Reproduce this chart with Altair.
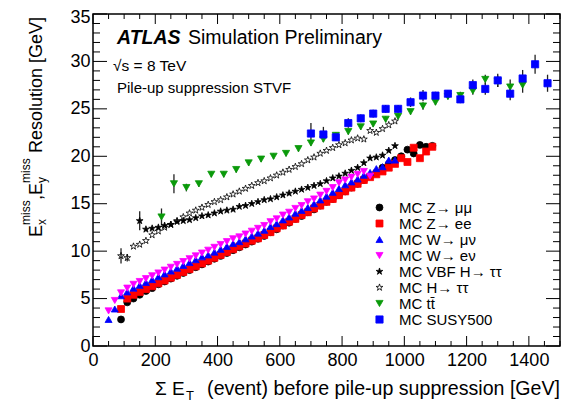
import altair as alt
import pandas as pd

FONT = "Liberation Sans"

STAR = ("M0,-1L0.2245,-0.309L0.951,-0.309L0.3633,0.118L0.5878,0.809L0,0.382L-0.5878,0.809"
        "L-0.3633,0.118L-0.951,-0.309L-0.2245,-0.309Z")

labels = ["MC Z\u2192 \u03bc\u03bc", "MC Z\u2192 ee", "MC W\u2192 \u03bc\u03bd", "MC W\u2192 e\u03bd",
          "MC VBF H\u2192 \u03c4\u03c4", "MC H\u2192 \u03c4\u03c4", "MC tt\u0304", "MC SUSY500"]
fills = ["black", "#ff0000", "#0000ff", "#ff00ff", "black", "transparent", "#0a9a0a", "#0000ff"]
strokes = ["black", "#ff0000", "#0000ff", "#ff00ff", "black", "black", "#0a9a0a", "#0000ff"]
shapes = ["circle", "square", "triangle-up", "triangle-down", STAR, STAR, "triangle-down", "square"]
sizes = [48, 52, 60, 60, 50, 120, 62, 64]
widths = [0.8, 0.8, 0.8, 0.8, 0.8, 1.4, 0.8, 0.8]

# bin centres (GeV)
zmm_x = list(range(90, 1091, 20))
zee_x = list(range(90, 1091, 20))
wmu_x = list(range(50, 971, 20))
wel_x = list(range(50, 891, 20))
vbf_x = list(range(150, 971, 20))
htt_x = list(range(90, 971, 20))
tt_x = list(range(220, 1381, 40))
susy_x = list(range(700, 1461, 40))

zmm_y = [2.8, 4.6, 5.0, 5.4, 5.8, 6.1, 6.5, 6.8, 7.1, 7.4, 7.7, 8.0, 8.3, 8.6, 8.9, 9.2, 9.5, 9.8,
         10.1, 10.4, 10.7, 11.0, 11.3, 11.6, 12.0, 12.3, 12.7, 13.0, 13.4, 13.7, 14.1, 14.4, 14.8,
         15.2, 15.5, 15.9, 16.3, 16.7, 17.1, 17.5, 17.9, 18.3, 18.8, 19.2, 19.6, 20.0, 20.7, 20.3,
         21.2, 21.0, 21.1]
zee_y = [3.9, 5.0, 5.4, 5.7, 6.0, 6.3, 6.6, 6.9, 7.2, 7.5, 7.8, 8.1, 8.4, 8.7, 9.0, 9.3, 9.6, 9.9,
         10.2, 10.5, 10.8, 11.1, 11.35, 11.7, 12.0, 12.4, 12.7, 13.1, 13.4, 13.8, 14.1, 14.5, 14.8,
         15.2, 15.5, 15.9, 16.3, 16.7, 17.1, 17.5, 17.8, 18.1, 18.4, 18.8, 19.2, 19.8, 19.4, 20.9,
         19.8, 20.5, 21.0]
wmu_y = [2.8, 3.9, 5.3, 5.7, 6.1, 6.4, 6.7, 7.0, 7.3, 7.6, 7.9, 8.2, 8.5, 8.8, 9.1, 9.4, 9.6, 9.9,
         10.2, 10.5, 10.8, 11.0, 11.3, 11.6, 11.9, 12.2, 12.6, 12.9, 13.3, 13.6, 14.0, 14.3, 14.6,
         15.0, 15.4, 15.8, 16.2, 16.6, 17.0, 17.3, 17.6, 18.0, 18.3, 18.7, 18.9, 19.6, 19.6]
wel_y = [3.7, 4.8, 5.6, 6.1, 6.5, 6.8, 7.1, 7.4, 7.7, 8.0, 8.3, 8.6, 8.9, 9.2, 9.5, 9.8, 10.1, 10.4,
         10.7, 11.0, 11.3, 11.5, 11.8, 12.1, 12.4, 12.7, 13.1, 13.4, 13.8, 14.1, 14.5, 14.8, 15.2,
         15.5, 15.9, 16.3, 16.7, 17.2, 17.5, 17.8, 18.1, 18.4, 17.9]
vbf_y = [13.2, 12.3, 12.4, 12.5, 12.7, 12.8, 13.1, 13.2, 13.3, 13.5, 13.7, 13.8, 14.0, 14.2, 14.3,
         14.4, 14.7, 14.8, 15.0, 15.2, 15.4, 15.5, 15.7, 15.9, 16.1, 16.3, 16.5, 16.7, 16.9, 17.1,
         17.4, 17.7, 17.9, 18.2, 18.5, 18.8, 19.3, 19.8, 19.9, 20.1, 20.6, 21.1]
htt_y = [9.5, 9.3, 10.5, 10.7, 11.1, 11.7, 12.1, 12.5, 12.8, 13.2, 13.6, 14.0, 14.3, 14.6, 14.9,
         15.2, 15.4, 15.7, 16.0, 16.3, 16.6, 16.9, 17.2, 17.4, 17.7, 18.0, 18.3, 18.6, 18.9, 19.2,
         19.6, 19.9, 20.3, 20.6, 20.9, 21.2, 21.4, 21.7, 21.9, 21.8, 22.7, 22.5, 22.9, 23.3, 23.7]
tt_y = [13.6, 17.1, 16.7, 17.1, 18.1, 18.1, 18.6, 19.3, 19.7, 20.0, 20.3, 20.8, 21.4, 21.8, 22.2,
        22.6, 23.1, 23.4, 23.9, 24.2, 24.7, 25.3, 25.7, 26.3, 26.4, 26.9, 28.1, 27.9, 27.3, 27.5]
susy_y = [22.4, 22.3, 22.0, 23.5, 24.0, 24.5, 25.0, 25.0, 25.7, 26.4, 26.4, 26.6, 26.0, 27.5, 27.1,
          28.0, 26.6, 28.2, 29.7, 27.7]

# statistical errors (only visible ones)
tt_err = [0.9, 1.0, 0.4, 0.3, 0.3, 0.3, 0.3, 0.3, 0.3, 0.3, 0.3, 0.3, 0.3, 0.3, 0.3, 0.3, 0.3, 0.3,
          0.3, 0.3, 0.3, 0.4, 0.3, 0.3, 0.4, 0.4, 0.5, 0.6, 0.8, 0.8]
susy_err = [1.1, 0.8, 0.4, 0.5, 0.4, 0.4, 0.4, 0.4, 0.5, 0.6, 0.4, 0.4, 0.4, 0.6, 0.6, 0.7, 0.7,
            0.9, 1.0, 0.9]
vbf_err = [1.0]
htt_err = [0.8, 0.4]

series = [
    (zmm_x, zmm_y, []), (zee_x, zee_y, []), (wmu_x, wmu_y, []), (wel_x, wel_y, []),
    (vbf_x, vbf_y, vbf_err), (htt_x, htt_y, htt_err), (tt_x, tt_y, tt_err), (susy_x, susy_y, susy_err),
]
rows = []
for lab, (xs, ys, es) in zip(labels, series):
    for i, (xv, yv) in enumerate(zip(xs, ys)):
        e = es[i] if i < len(es) else 0.0
        rows.append({"series": lab, "x": xv, "y": yv, "lo": yv - e, "hi": yv + e, "err": e})
df = pd.DataFrame(rows)
dferr = df[df["err"] > 0]

x_major = [0, 200, 400, 600, 800, 1000, 1200, 1400]
x_minor = [v for v in range(0, 1501, 50) if v % 200 != 0]
y_major = [0, 5, 10, 15, 20, 25, 30, 35]
y_minor = [v for v in range(0, 36) if v % 5 != 0]

W, H = 467, 332
xscale = alt.Scale(domain=[0, 1500], nice=False, zero=False)
yscale = alt.Scale(domain=[0, 35], nice=False, zero=False)
xaxis = alt.Axis(orient="bottom", values=x_major, labelFontSize=18, labelFont=FONT, labelColor="black",
                 ticks=False, domain=False, grid=False, labelPadding=5, title=None, labelFlush=False,
                 labelOverlap=False, format="d")
yaxis = alt.Axis(orient="left", values=y_major, labelFontSize=18, labelFont=FONT, labelColor="black",
                 ticks=False, domain=False, grid=False, labelPadding=3, title=None, labelFlush=False,
                 labelOverlap=False, format="d",
                 labelOffset={"condition": {"test": "datum.value == 35", "value": 3}, "value": 0})


def xt(vals, y1, y2):
    return alt.Chart(pd.DataFrame({"v": vals})).mark_rule(color="black", strokeWidth=1).encode(
        x=alt.X("v:Q", scale=xscale, axis=xaxis), y=alt.value(y1), y2=alt.value(y2))


def yt(vals, x1, x2):
    return alt.Chart(pd.DataFrame({"v": vals})).mark_rule(color="black", strokeWidth=1).encode(
        y=alt.Y("v:Q", scale=yscale, axis=yaxis), x=alt.value(x1), x2=alt.value(x2))


ticks = [
    xt(x_major, H, H - 10), xt(x_minor, H, H - 5), xt(x_major, 0, 10), xt(x_minor, 0, 5),
    yt(y_major, 0, 14), yt(y_minor, 0, 7), yt(y_major, W, W - 14), yt(y_minor, W, W - 7),
]

errs = alt.Chart(dferr).mark_rule(color="#222222", strokeWidth=1.3).encode(
    x=alt.X("x:Q", scale=xscale, axis=xaxis),
    y=alt.Y("lo:Q", scale=yscale, axis=yaxis),
    y2="hi:Q",
)

points = alt.Chart(df).mark_point(filled=True, opacity=1).encode(
    x=alt.X("x:Q", scale=xscale, axis=xaxis),
    y=alt.Y("y:Q", scale=yscale, axis=yaxis),
    shape=alt.Shape("series:N", scale=alt.Scale(domain=labels, range=shapes), title=None),
    fill=alt.Fill("series:N", scale=alt.Scale(domain=labels, range=fills), title=None),
    stroke=alt.Stroke("series:N", scale=alt.Scale(domain=labels, range=strokes), title=None),
    size=alt.Size("series:N", scale=alt.Scale(domain=labels, range=sizes), title=None),
    strokeWidth=alt.StrokeWidth("series:N", scale=alt.Scale(domain=labels, range=widths), title=None),
)


def txt(t, x, y, size, angle=0, align="left", bold=False, italic=False):
    kw = dict(text=t, fontSize=size, font=FONT, color="black", align=align, baseline="alphabetic")
    if angle:
        kw["angle"] = angle
    if bold:
        kw["fontWeight"] = "bold"
    if italic:
        kw["fontStyle"] = "italic"
    return alt.Chart(alt.Data(values=[{}])).mark_text(**kw).encode(x=alt.value(x), y=alt.value(y))


# y offset of the plot top vs. the reference frame top (10 px)
OY = 4
texts = [
    txt("ATLAS", 24, 34 - OY, 19.5, bold=True, italic=True),
    txt("Simulation Preliminary", 95, 34 - OY, 19.5),
    txt("\u221as = 8 TeV", 20, 61 - OY, 15.5),
    txt("Pile-up suppression STVF", 24, 83 - OY, 15),
    # x title
    txt("\u03a3 E", 62, 385 - OY, 19),
    txt("T", 93, 390 - OY, 13),
    txt("(event) before pile-up suppression [GeV]", W, 385 - OY, 19.6, align="right"),
    # y title (rotated)
    txt("E", -51, 227 - OY, 18, angle=270),
    txt("x", -47, 215 - OY, 12, angle=270),
    txt("miss", -63, 215 - OY, 12, angle=270),
    txt(",", -51, 190 - OY, 18, angle=270),
    txt("E", -51, 185 - OY, 18, angle=270),
    txt("y", -47, 173 - OY, 12, angle=270),
    txt("miss", -63, 173 - OY, 12, angle=270),
    txt("Resolution [GeV]", -51, 143 - OY, 18, angle=270),
]

chart = alt.layer(*ticks, errs, points, *texts).properties(
    width=W, height=H,
    padding={"left": 85, "top": 6, "right": 3, "bottom": 56},
    autosize=alt.AutoSizeParams(type="none"),
).configure_view(stroke="black", strokeWidth=1.5).configure_legend(
    orient="none", legendX=279, legendY=190 - OY, labelFontSize=15, labelFont=FONT, labelColor="black",
    symbolOpacity=1, rowPadding=0, labelOffset=12, padding=0,
)

chart.save("out.html", embed_options={"renderer": "svg", "actions": False})
